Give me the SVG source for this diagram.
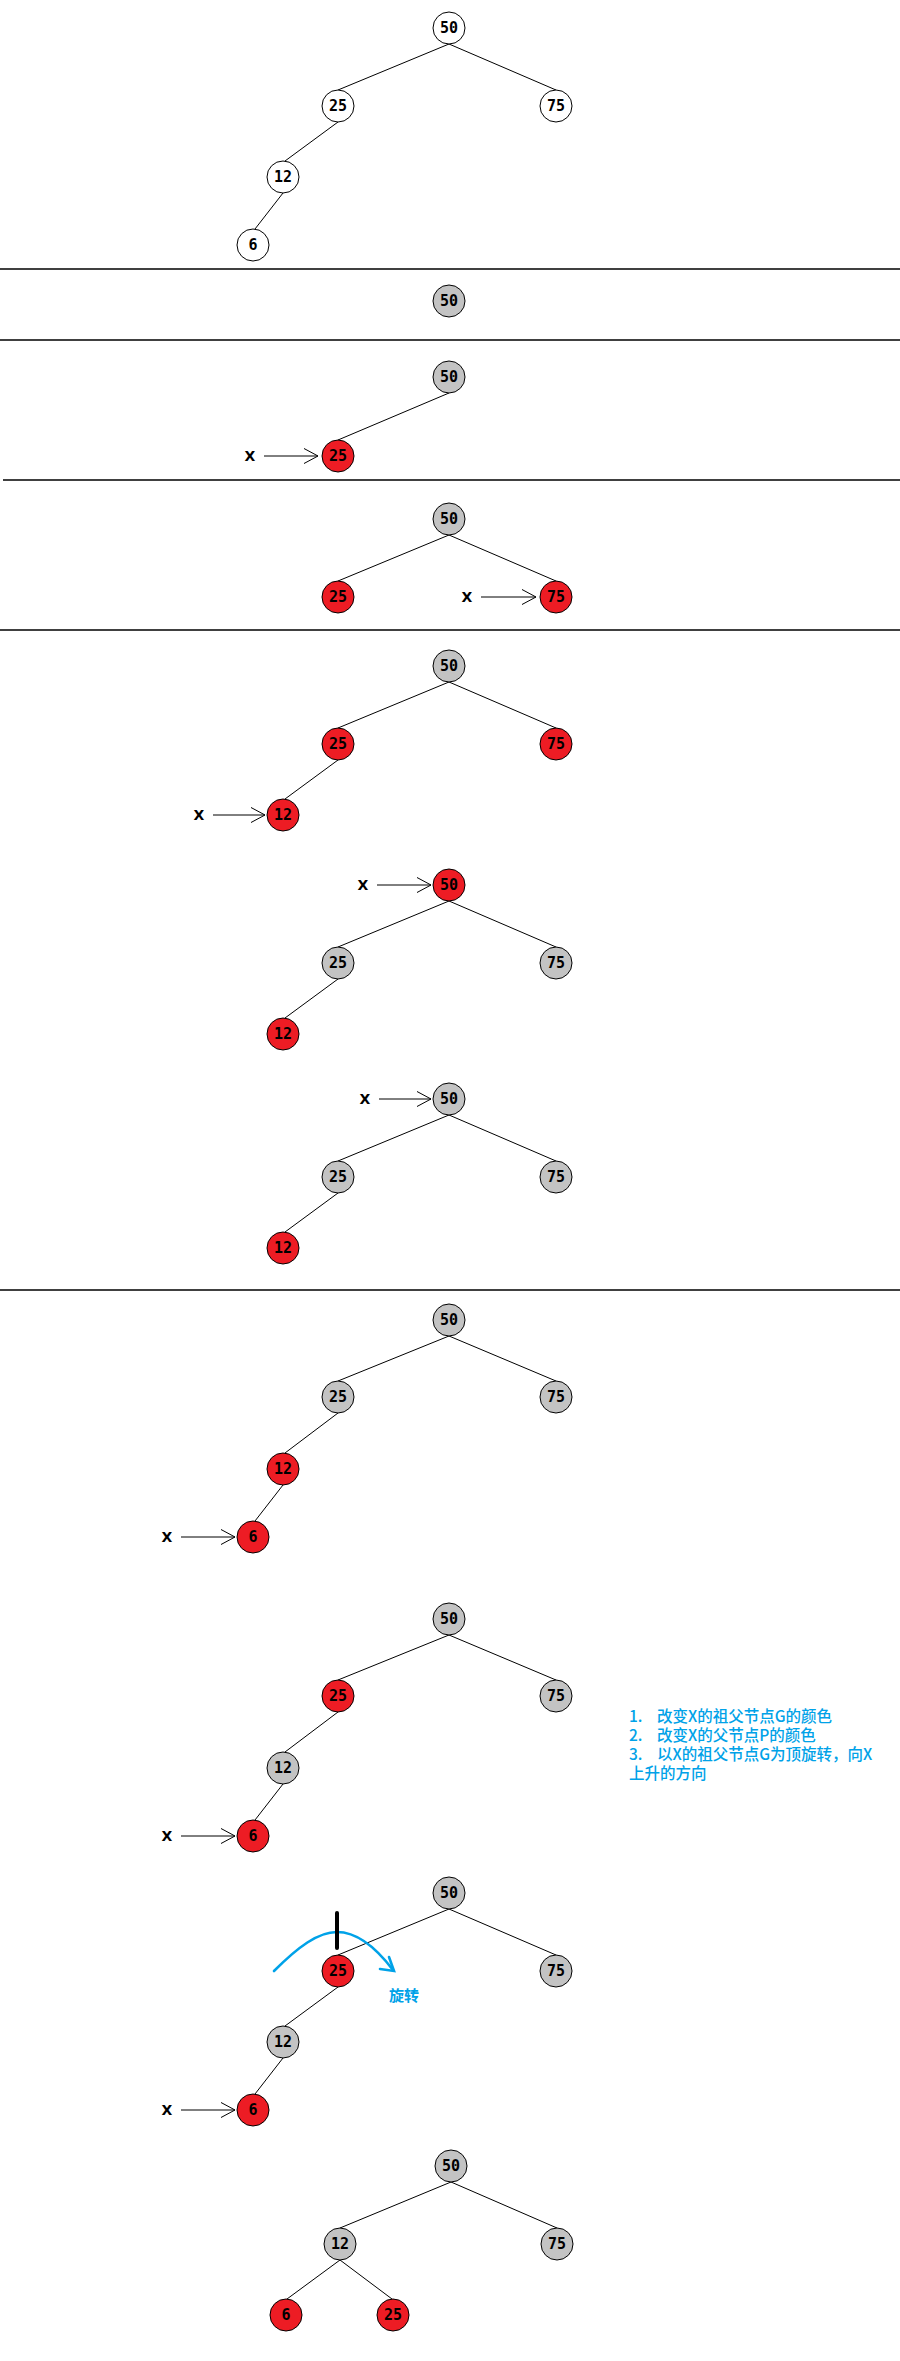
<svg xmlns="http://www.w3.org/2000/svg" width="900" height="2361" viewBox="0 0 900 2361">
<style>
.n circle{stroke:#000;stroke-width:1}
.w circle{fill:#fff}
.g circle{fill:#c3c3c3}
.r circle{fill:#ed1c24}
.n text{font-family:"DejaVu Sans Mono","Liberation Mono",monospace;font-size:15px;font-weight:bold;text-anchor:middle;fill:#000}
.e line{stroke:#000;stroke-width:1}
.sep{stroke:#000;stroke-width:1.3}
.xl{font-family:"DejaVu Sans","Liberation Sans",sans-serif;font-size:14px;font-weight:bold;text-anchor:middle;fill:#000}
.xa{stroke:#000;stroke-width:1;fill:none}
.note{font-family:"Noto Sans CJK SC",sans-serif;font-size:15.5px;font-weight:500;fill:#00a2e8}
.blue{stroke:#00a2e8;stroke-width:2.6;fill:none;stroke-linecap:round}
</style>
<defs>
<marker id="ah" viewBox="0 0 15 16" refX="14" refY="8" markerWidth="15" markerHeight="16" markerUnits="userSpaceOnUse" orient="auto">
<path d="M0,0.5 L14,8 L0,15.5" fill="none" stroke="#000" stroke-width="1"/>
</marker>
</defs>
<rect width="900" height="2361" fill="#fff"/>

<g id="separators">
<line class="sep" x1="0" y1="269" x2="900" y2="269"/>
<line class="sep" x1="0" y1="340" x2="900" y2="340"/>
<line class="sep" x1="3" y1="480" x2="900" y2="480"/>
<line class="sep" x1="0" y1="630" x2="900" y2="630"/>
<line class="sep" x1="0" y1="1290" x2="900" y2="1290"/>
</g>

<g id="connectors" class="e">
<line x1="449" y1="44" x2="338" y2="90"/>
<line x1="449" y1="44" x2="556" y2="90"/>
<line x1="338" y1="122" x2="285" y2="161"/>
<line x1="283" y1="193" x2="255" y2="229"/>

<line x1="449" y1="393" x2="338" y2="440"/>

<line x1="449" y1="535" x2="338" y2="581"/>
<line x1="449" y1="535" x2="556" y2="581"/>

<line x1="449" y1="682" x2="338" y2="728"/>
<line x1="449" y1="682" x2="556" y2="728"/>
<line x1="338" y1="760" x2="285" y2="799"/>

<line x1="449" y1="901" x2="338" y2="947"/>
<line x1="449" y1="901" x2="556" y2="947"/>
<line x1="338" y1="979" x2="285" y2="1018"/>

<line x1="449" y1="1115" x2="338" y2="1161"/>
<line x1="449" y1="1115" x2="556" y2="1161"/>
<line x1="338" y1="1193" x2="285" y2="1232"/>

<line x1="449" y1="1336" x2="338" y2="1381"/>
<line x1="449" y1="1336" x2="556" y2="1381"/>
<line x1="338" y1="1413" x2="285" y2="1453"/>
<line x1="283" y1="1485" x2="255" y2="1521"/>

<line x1="449" y1="1635" x2="338" y2="1680"/>
<line x1="449" y1="1635" x2="556" y2="1680"/>
<line x1="338" y1="1712" x2="285" y2="1752"/>
<line x1="283" y1="1784" x2="255" y2="1820"/>

<line x1="449" y1="1909" x2="338" y2="1955"/>
<line x1="449" y1="1909" x2="556" y2="1955"/>
<line x1="338" y1="1987" x2="285" y2="2026"/>
<line x1="283" y1="2058" x2="255" y2="2094"/>

<line x1="451" y1="2182" x2="340" y2="2228"/>
<line x1="451" y1="2182" x2="557" y2="2228"/>
<line x1="340" y1="2260" x2="287" y2="2299"/>
<line x1="340" y1="2260" x2="392" y2="2299"/>

<line class="xa" x1="264" y1="456" x2="318" y2="456" marker-end="url(#ah)"/>
<line class="xa" x1="481" y1="597" x2="536" y2="597" marker-end="url(#ah)"/>
<line class="xa" x1="213" y1="815" x2="265" y2="815" marker-end="url(#ah)"/>
<line class="xa" x1="377" y1="885" x2="431" y2="885" marker-end="url(#ah)"/>
<line class="xa" x1="379" y1="1099" x2="431" y2="1099" marker-end="url(#ah)"/>
<line class="xa" x1="181" y1="1537" x2="235" y2="1537" marker-end="url(#ah)"/>
<line class="xa" x1="181" y1="1836" x2="235" y2="1836" marker-end="url(#ah)"/>
<line class="xa" x1="181" y1="2110" x2="235" y2="2110" marker-end="url(#ah)"/>
</g>

<g id="s1">
<g id="s1-50" class="n w"><circle cx="449" cy="28" r="16"/><text x="449" y="33">50</text></g>
<g id="s1-25" class="n w"><circle cx="338" cy="106" r="16"/><text x="338" y="111">25</text></g>
<g id="s1-75" class="n w"><circle cx="556" cy="106" r="16"/><text x="556" y="111">75</text></g>
<g id="s1-12" class="n w"><circle cx="283" cy="177" r="16"/><text x="283" y="182">12</text></g>
<g id="s1-6" class="n w"><circle cx="253" cy="245" r="16"/><text x="253" y="250">6</text></g>
</g>

<g id="s2">
<g id="s2-50" class="n g"><circle cx="449" cy="301" r="16"/><text x="449" y="306">50</text></g>
</g>

<g id="s3">
<g id="s3-50" class="n g"><circle cx="449" cy="377" r="16"/><text x="449" y="382">50</text></g>
<g id="s3-25" class="n r"><circle cx="338" cy="456" r="16"/><text x="338" y="461">25</text></g>
<text id="s3-x" class="xl" x="250" y="461">X</text>
</g>

<g id="s4">
<g id="s4-50" class="n g"><circle cx="449" cy="519" r="16"/><text x="449" y="524">50</text></g>
<g id="s4-25" class="n r"><circle cx="338" cy="597" r="16"/><text x="338" y="602">25</text></g>
<g id="s4-75" class="n r"><circle cx="556" cy="597" r="16"/><text x="556" y="602">75</text></g>
<text id="s4-x" class="xl" x="467" y="602">X</text>
</g>

<g id="s5a">
<g id="s5a-50" class="n g"><circle cx="449" cy="666" r="16"/><text x="449" y="671">50</text></g>
<g id="s5a-25" class="n r"><circle cx="338" cy="744" r="16"/><text x="338" y="749">25</text></g>
<g id="s5a-75" class="n r"><circle cx="556" cy="744" r="16"/><text x="556" y="749">75</text></g>
<g id="s5a-12" class="n r"><circle cx="283" cy="815" r="16"/><text x="283" y="820">12</text></g>
<text id="s5a-x" class="xl" x="199" y="820">X</text>
</g>

<g id="s5b">
<g id="s5b-50" class="n r"><circle cx="449" cy="885" r="16"/><text x="449" y="890">50</text></g>
<g id="s5b-25" class="n g"><circle cx="338" cy="963" r="16"/><text x="338" y="968">25</text></g>
<g id="s5b-75" class="n g"><circle cx="556" cy="963" r="16"/><text x="556" y="968">75</text></g>
<g id="s5b-12" class="n r"><circle cx="283" cy="1034" r="16"/><text x="283" y="1039">12</text></g>
<text id="s5b-x" class="xl" x="363" y="890">X</text>
</g>

<g id="s5c">
<g id="s5c-50" class="n g"><circle cx="449" cy="1099" r="16"/><text x="449" y="1104">50</text></g>
<g id="s5c-25" class="n g"><circle cx="338" cy="1177" r="16"/><text x="338" y="1182">25</text></g>
<g id="s5c-75" class="n g"><circle cx="556" cy="1177" r="16"/><text x="556" y="1182">75</text></g>
<g id="s5c-12" class="n r"><circle cx="283" cy="1248" r="16"/><text x="283" y="1253">12</text></g>
<text id="s5c-x" class="xl" x="365" y="1104">X</text>
</g>

<g id="s6a">
<g id="s6a-50" class="n g"><circle cx="449" cy="1320" r="16"/><text x="449" y="1325">50</text></g>
<g id="s6a-25" class="n g"><circle cx="338" cy="1397" r="16"/><text x="338" y="1402">25</text></g>
<g id="s6a-75" class="n g"><circle cx="556" cy="1397" r="16"/><text x="556" y="1402">75</text></g>
<g id="s6a-12" class="n r"><circle cx="283" cy="1469" r="16"/><text x="283" y="1474">12</text></g>
<g id="s6a-6" class="n r"><circle cx="253" cy="1537" r="16"/><text x="253" y="1542">6</text></g>
<text id="s6a-x" class="xl" x="167" y="1542">X</text>
</g>

<g id="s6b">
<g id="s6b-50" class="n g"><circle cx="449" cy="1619" r="16"/><text x="449" y="1624">50</text></g>
<g id="s6b-25" class="n r"><circle cx="338" cy="1696" r="16"/><text x="338" y="1701">25</text></g>
<g id="s6b-75" class="n g"><circle cx="556" cy="1696" r="16"/><text x="556" y="1701">75</text></g>
<g id="s6b-12" class="n g"><circle cx="283" cy="1768" r="16"/><text x="283" y="1773">12</text></g>
<g id="s6b-6" class="n r"><circle cx="253" cy="1836" r="16"/><text x="253" y="1841">6</text></g>
<text id="s6b-x" class="xl" x="167" y="1841">X</text>
</g>

<g id="note">
<text class="note" x="629" y="1722"><tspan>1.</tspan><tspan x="657">改变X的祖父节点G的颜色</tspan></text>
<text class="note" x="629" y="1741"><tspan>2.</tspan><tspan x="657">改变X的父节点P的颜色</tspan></text>
<text class="note" x="629" y="1760"><tspan>3.</tspan><tspan x="657">以X的祖父节点G为顶旋转，向X</tspan></text>
<text class="note" x="629" y="1779">上升的方向</text>
</g>

<g id="s6c">
<g id="s6c-50" class="n g"><circle cx="449" cy="1893" r="16"/><text x="449" y="1898">50</text></g>
<g id="s6c-25" class="n r"><circle cx="338" cy="1971" r="16"/><text x="338" y="1976">25</text></g>
<g id="s6c-75" class="n g"><circle cx="556" cy="1971" r="16"/><text x="556" y="1976">75</text></g>
<g id="s6c-12" class="n g"><circle cx="283" cy="2042" r="16"/><text x="283" y="2047">12</text></g>
<g id="s6c-6" class="n r"><circle cx="253" cy="2110" r="16"/><text x="253" y="2115">6</text></g>
<text id="s6c-x" class="xl" x="167" y="2115">X</text>
</g>

<g id="rotation">
<path class="blue" d="M274,1971 C298,1947 318,1932 337,1932 C356,1932 374,1945 393,1970"/>
<path class="blue" d="M380,1969 L394,1971 L389,1957"/>
<line x1="337" y1="1913" x2="337" y2="1948" stroke="#000" stroke-width="4" stroke-linecap="round"/>
<text x="404" y="2001" font-family="Noto Sans CJK SC, sans-serif" font-size="15" font-weight="bold" fill="#00a2e8" text-anchor="middle">旋转</text>
</g>

<g id="s6d">
<g id="s6d-50" class="n g"><circle cx="451" cy="2166" r="16"/><text x="451" y="2171">50</text></g>
<g id="s6d-12" class="n g"><circle cx="340" cy="2244" r="16"/><text x="340" y="2249">12</text></g>
<g id="s6d-75" class="n g"><circle cx="557" cy="2244" r="16"/><text x="557" y="2249">75</text></g>
<g id="s6d-6" class="n r"><circle cx="286" cy="2315" r="16"/><text x="286" y="2320">6</text></g>
<g id="s6d-25" class="n r"><circle cx="393" cy="2315" r="16"/><text x="393" y="2320">25</text></g>
</g>
</svg>
